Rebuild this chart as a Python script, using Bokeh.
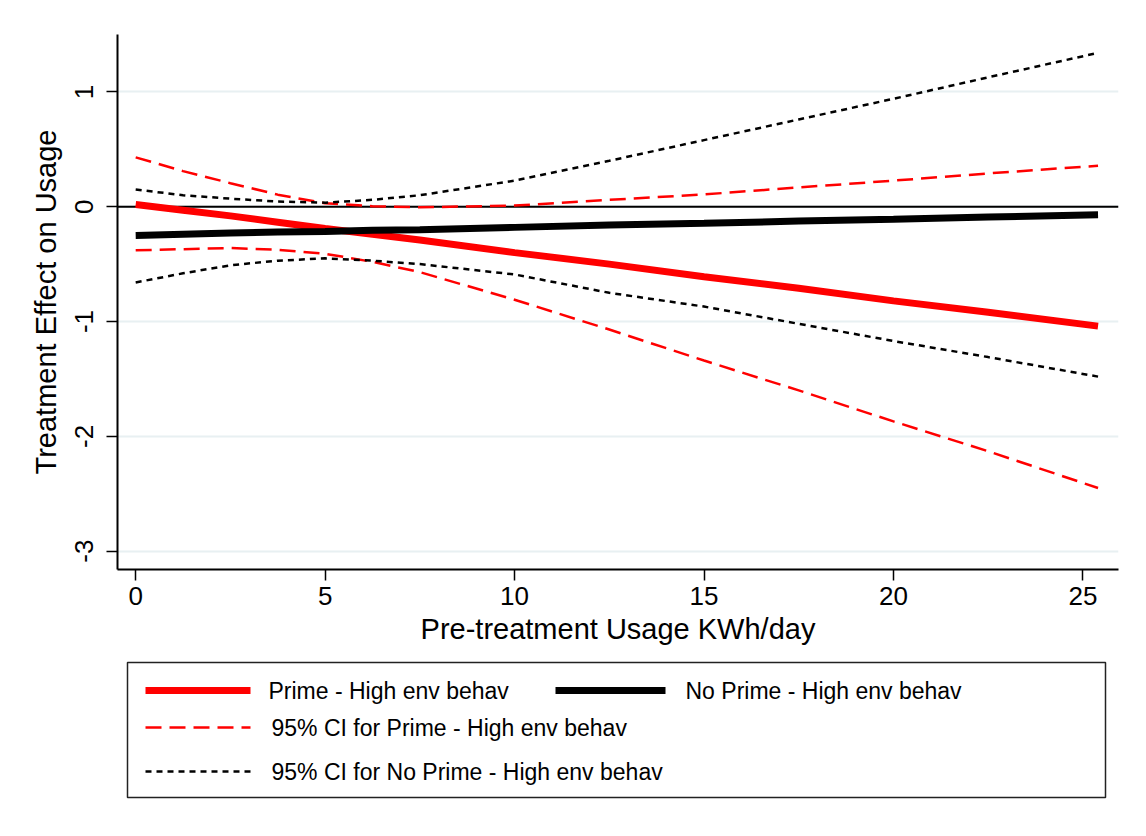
from bokeh.plotting import figure
from bokeh.models import Range1d, FixedTicker, Span
from bokeh.layouts import column
from bokeh.core.properties import value
from bokeh.embed import file_html
from bokeh.resources import INLINE

# ---- data ----
usage = [0, 1.25, 2.5, 3.75, 5, 6.25, 7.5, 10, 12.5, 15, 17.5, 20, 22.5, 25.4]

prime_mean = [0.02, -0.03, -0.08, -0.135, -0.19, -0.24, -0.29, -0.40, -0.50, -0.61, -0.71, -0.82, -0.92, -1.04]
prime_upper = [0.43, 0.31, 0.205, 0.105, 0.03, 0.005, -0.005, 0.01, 0.06, 0.107, 0.168, 0.227, 0.29, 0.357]
prime_lower = [-0.38, -0.37, -0.36, -0.375, -0.41, -0.48, -0.57, -0.81, -1.07, -1.34, -1.60, -1.87, -2.13, -2.45]

noprime_mean = [-0.25, -0.24, -0.23, -0.22, -0.215, -0.205, -0.20, -0.18, -0.16, -0.145, -0.125, -0.11, -0.09, -0.07]
noprime_upper = [0.15, 0.10, 0.07, 0.045, 0.035, 0.06, 0.10, 0.227, 0.40, 0.58, 0.76, 0.94, 1.127, 1.34]
noprime_lower = [-0.66, -0.58, -0.51, -0.47, -0.45, -0.47, -0.50, -0.59, -0.75, -0.87, -1.02, -1.17, -1.31, -1.48]

x_ticks = [0, 5, 10, 15, 20, 25]
y_ticks = [-3, -2, -1, 0, 1]
y_tick_labels = ["-3", "-2", "-1", "0", "1"]

x_title = "Pre-treatment Usage KWh/day"
y_title = "Treatment Effect on Usage"

legend_labels = [
    "Prime - High env behav",
    "No Prime - High env behav",
    "95% CI for Prime - High env behav",
    "95% CI for No Prime - High env behav",
]

FONT = "Liberation Sans"
RED = "#ff0000"
BLACK = "#000000"

# ---- main plot ----
p = figure(width=1146, height=654, output_backend="svg", toolbar_location=None,
           x_range=Range1d(-0.48, 25.94), y_range=Range1d(-3.16, 1.5),
           min_border_left=117, min_border_right=28, min_border_top=34,
           min_border_bottom=85)
p.outline_line_color = None
p.background_fill_color = "white"
p.border_fill_color = "white"

p.xgrid.visible = False
p.ygrid.grid_line_color = "#e8f0f2"
p.ygrid.grid_line_width = 2
p.ygrid.ticker = FixedTicker(ticks=y_ticks)

p.add_layout(Span(location=0, dimension="width", line_color=BLACK,
                  line_width=2, level="underlay"))

for ax in (p.xaxis[0], p.yaxis[0]):
    ax.axis_line_color = BLACK
    ax.axis_line_width = 2
    ax.major_tick_line_color = BLACK
    ax.major_tick_line_width = 1.5
    ax.major_tick_out = 11
    ax.major_tick_in = 0
    ax.minor_tick_line_color = None
    ax.major_label_text_font = FONT
    ax.major_label_text_font_size = "26px"
    ax.major_label_text_color = BLACK
    ax.axis_label_text_font = FONT
    ax.axis_label_text_font_size = "29px"
    ax.axis_label_text_font_style = "normal"
    ax.axis_label_text_color = BLACK

p.xaxis.ticker = FixedTicker(ticks=x_ticks)
p.yaxis.ticker = FixedTicker(ticks=y_ticks)
p.yaxis.major_label_overrides = {t: s for t, s in zip(y_ticks, y_tick_labels)}
p.xaxis.axis_label = x_title
p.yaxis.axis_label = y_title
p.xaxis.major_label_standoff = 6
p.xaxis.axis_label_standoff = 5
p.yaxis.major_label_orientation = "vertical"
p.yaxis.major_label_standoff = 13
p.yaxis.axis_label_standoff = 11

# CI lines
p.line(usage, prime_upper, line_color=RED, line_width=2.5, line_dash="16 8")
p.line(usage, prime_lower, line_color=RED, line_width=2.5, line_dash="16 8")
p.line(usage, noprime_upper, line_color=BLACK, line_width=2.5, line_dash="6 5")
p.line(usage, noprime_lower, line_color=BLACK, line_width=2.5, line_dash="6 5")
# point estimates
p.line(usage, prime_mean, line_color=RED, line_width=7, line_cap="butt")
p.line(usage, noprime_mean, line_color=BLACK, line_width=7, line_cap="butt")

# ---- legend panel (its frame is aligned with the main plot's frame,
#      so the ranges are expressed in page pixels) ----
lg = figure(width=1146, height=182, output_backend="svg", toolbar_location=None,
            x_range=Range1d(117, 1118), y_range=Range1d(182, 0),
            x_axis_location=None, y_axis_location=None, min_border=0)
lg.grid.visible = False
lg.outline_line_color = None
lg.background_fill_color = "white"
lg.border_fill_color = "white"

lg.quad(left=[127], right=[1105], top=[8], bottom=[143],
        fill_color=None, line_color="#222222", line_width=1.5)

sample_x0 = [145, 555, 145, 145]
sample_x1 = [250, 665, 250, 250]
row_y = [36, 36, 73, 117]
text_x = [268, 685, 271, 271]
colors = [RED, BLACK, RED, BLACK]
widths = [7, 7, 2.5, 2.5]
dashes = ["solid", "solid", "16 8", "6 5"]

for i in range(4):
    lg.line([sample_x0[i], sample_x1[i]], [row_y[i], row_y[i]],
            line_color=colors[i], line_width=widths[i], line_dash=dashes[i],
            line_cap="butt")
lg.text(x=text_x, y=row_y, text=legend_labels,
        text_font=value(FONT), text_font_size="23px",
        text_baseline="middle", text_align="left", text_color=BLACK)

layout = column(p, lg, spacing=0)

open("out.html", "w").write(file_html(layout, INLINE))
